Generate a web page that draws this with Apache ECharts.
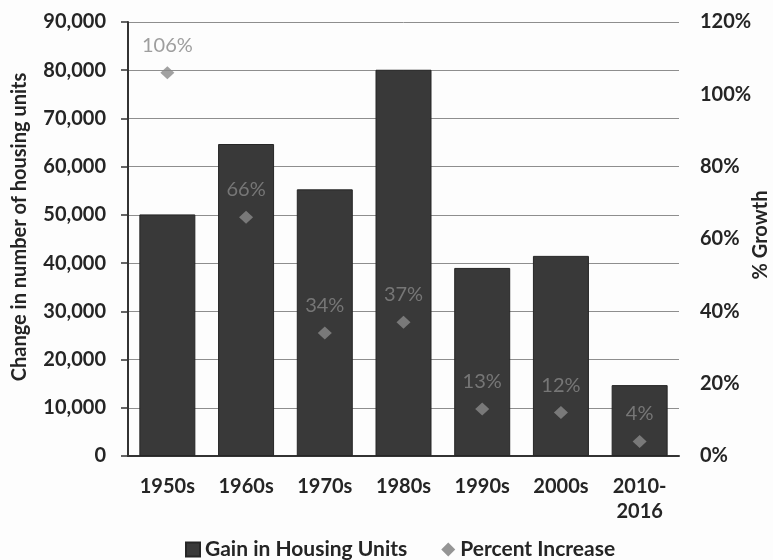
<!DOCTYPE html>
<html>
<head>
<meta charset="utf-8">
<script src="https://cdn.jsdelivr.net/npm/echarts@6/dist/echarts.min.js"></script>
<style>
  html, body { margin: 0; padding: 0; background: #fdfdfd; }
  #chart { width: 773px; height: 560px; }
</style>
</head>
<body>
<div id="chart"></div>
<script>
// Housing growth by decade
const decades = ['1950s', '1960s', '1970s', '1980s', '1990s', '2000s', '2010-\n2016'];
const housingGain = [50100, 64700, 55300, 80100, 39000, 41500, 14700];
const percentIncrease = [106, 66, 34, 37, 13, 12, 4];
const leftTicks = { min: 0, max: 90000, step: 10000 };
const rightTicks = { min: 0, max: 120, step: 20 };

const font = 'Lato, "Open Sans", sans-serif';
const ink = '#252525';

const chart = echarts.init(document.getElementById('chart'));
chart.setOption({
  animation: false,
  textStyle: { fontFamily: font },
  grid: { left: 128, right: 94, top: 22, bottom: 104, containLabel: false, outerBoundsMode: 'none' },
  legend: {
    top: 534,
    left: 180,
    itemGap: 34,
    itemWidth: 14,
    itemHeight: 14,
    textStyle: { fontFamily: font, fontWeight: 'bold', fontSize: 21, color: ink },
    data: [
      { name: 'Gain in Housing Units', icon: 'rect' },
      { name: 'Percent Increase', icon: 'diamond', itemStyle: { color: '#7a7a7a' } }
    ]
  },
  xAxis: {
    type: 'category',
    data: decades,
    axisLine: { lineStyle: { color: '#333', width: 2 } },
    axisTick: { show: false },
    axisLabel: {
      color: ink, fontWeight: 'bold', fontSize: 20, margin: 18, lineHeight: 25, fontFamily: font
    }
  },
  yAxis: [
    {
      type: 'value',
      min: leftTicks.min, max: leftTicks.max, interval: leftTicks.step,
      name: 'Change in number of housing units',
      nameLocation: 'middle',
      nameGap: 98,
      nameTextStyle: { color: ink, fontWeight: 'bold', fontSize: 20, fontFamily: font, padding: [0, 0, 0, 24] },
      axisLine: { show: true, lineStyle: { color: '#333', width: 2 } },
      axisTick: { show: true, length: 7, lineStyle: { color: '#333', width: 1.5 } },
      axisLabel: {
        color: ink, fontWeight: 'bold', fontSize: 20, margin: 22, fontFamily: font,
        formatter: v => v.toLocaleString('en-US')
      },
      splitLine: { lineStyle: { color: '#8e8e8e', width: 1 } }
    },
    {
      type: 'value',
      min: rightTicks.min, max: rightTicks.max, interval: rightTicks.step,
      name: '% Growth',
      nameLocation: 'middle',
      nameGap: 72,
      nameRotate: 90,
      nameMoveOverlap: false,
      nameTextStyle: { color: ink, fontWeight: 'bold', fontSize: 20, fontFamily: font, padding: [0, 0, 0, 8] },
      axisLine: { show: false },
      axisTick: { show: false },
      axisLabel: {
        color: ink, fontWeight: 'bold', fontSize: 20, margin: 21, fontFamily: font,
        formatter: '{value}%'
      },
      splitLine: { show: false }
    }
  ],
  series: [
    {
      name: 'Gain in Housing Units',
      type: 'bar',
      yAxisIndex: 0,
      data: housingGain,
      barWidth: 56,
      itemStyle: { color: '#393939', borderColor: '#262626', borderWidth: 1 }
    },
    {
      name: 'Percent Increase',
      type: 'scatter',
      yAxisIndex: 1,
      data: percentIncrease,
      symbol: 'diamond',
      symbolSize: [14, 13],
      itemStyle: { color: '#8a8a8a' },
      label: {
        show: true,
        position: 'top',
        distance: 11,
        formatter: p => p.value + '%',
        color: '#868686',
        fontSize: 20,
        fontFamily: font
      }
    }
  ]
});
</script>
</body>
</html>
